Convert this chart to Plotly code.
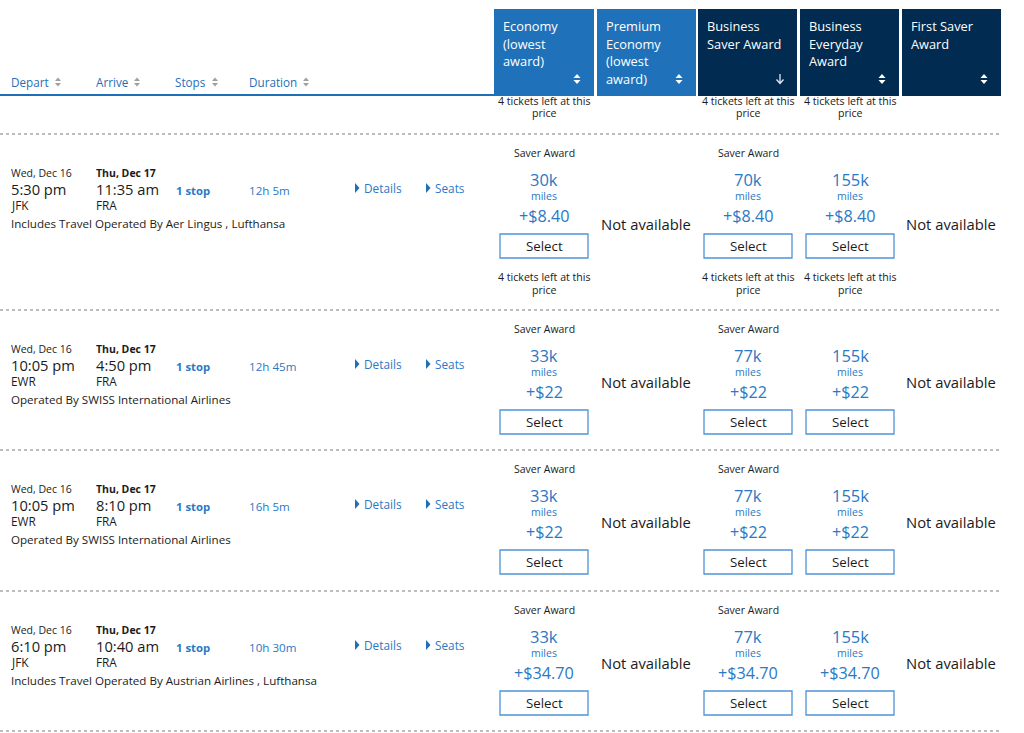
import plotly.graph_objects as go

# ---------------- data ----------------
sort_columns = ["Depart", "Arrive", "Stops", "Duration"]
fare_headers = [
    ["Economy", "(lowest", "award)"],
    ["Premium", "Economy", "(lowest", "award)"],
    ["Business", "Saver Award"],
    ["Business", "Everyday", "Award"],
    ["First Saver", "Award"],
]
depart_dates = ["Wed, Dec 16", "Wed, Dec 16", "Wed, Dec 16", "Wed, Dec 16"]
depart_times = ["5:30 pm", "10:05 pm", "10:05 pm", "6:10 pm"]
depart_airports = ["JFK", "EWR", "EWR", "JFK"]
arrive_dates = ["Thu, Dec 17", "Thu, Dec 17", "Thu, Dec 17", "Thu, Dec 17"]
arrive_times = ["11:35 am", "4:50 pm", "8:10 pm", "10:40 am"]
arrive_airports = ["FRA", "FRA", "FRA", "FRA"]
stops = ["1 stop", "1 stop", "1 stop", "1 stop"]
durations = ["12h 5m", "12h 45m", "16h 5m", "10h 30m"]
operated_by = [
    "Includes Travel Operated By Aer Lingus , Lufthansa",
    "Operated By SWISS International Airlines",
    "Operated By SWISS International Airlines",
    "Includes Travel Operated By Austrian Airlines , Lufthansa",
]
economy_miles = ["30k", "33k", "33k", "33k"]
business_saver_miles = ["70k", "77k", "77k", "77k"]
business_everyday_miles = ["155k", "155k", "155k", "155k"]
fees = ["+$8.40", "+$22", "+$22", "+$34.70"]
economy_label = ["Saver Award"] * 4
business_label = ["Saver Award"] * 4
tickets_left_row = [True, False, False, False]
tickets_text = ["4 tickets left at this", "price"]
not_available = "Not available"

# ---------------- style / layout ----------------
W, H = 1024, 733
FONT = "Open Sans"
BLUE = "#1F6FB7"
LINK = "#2A79C4"
DARK = "#1b1b1b"
HDR_LIGHT = "#1F71B9"
HDR_DARK = "#022B52"
BTN = "#4F93D6"

fig = go.Figure()
fig.add_trace(go.Scatter(x=[0, W], y=[0, H], mode="markers",
                         marker=dict(opacity=0), hoverinfo="skip", showlegend=False))

ann = []
shapes = []
PADX = 2  # annotation inner padding


def txt(x, y, s, size, color=DARK, anchor="left", bold=False):
    if bold:
        s = "<b>" + s + "</b>"
    xx = x - PADX if anchor == "left" else x
    ann.append(dict(x=xx, y=y, xref="x", yref="y", text=s, showarrow=False,
                    xanchor=anchor, yanchor="middle", borderpad=0,
                    font=dict(family=FONT, size=size, color=color)))


def sort_icon(x, y, color, h=4, w=3.5):
    shapes.append(dict(type="path", xref="x", yref="y",
                       path=f"M {x-w},{y-1} L {x+w},{y-1} L {x},{y-1-h} Z",
                       fillcolor=color, line=dict(width=0)))
    shapes.append(dict(type="path", xref="x", yref="y",
                       path=f"M {x-w},{y+1} L {x+w},{y+1} L {x},{y+1+h} Z",
                       fillcolor=color, line=dict(width=0)))


def down_arrow(x, y, color):
    shapes.append(dict(type="path", xref="x", yref="y",
                       path=f"M {x},{y-5} L {x},{y+4} M {x-3.5},{y+0.5} L {x},{y+4.5} L {x+3.5},{y+0.5}",
                       line=dict(color=color, width=1.3)))


def tri_right(x, y, color):
    shapes.append(dict(type="path", xref="x", yref="y",
                       path=f"M {x},{y-5} L {x+4.5},{y} L {x},{y+5} Z",
                       fillcolor=color, line=dict(width=0)))


# left header
col_x = [12, 97, 176, 250]
icon_x = [58, 137, 215, 306]
for cx, ix, name in zip(col_x, icon_x, sort_columns):
    txt(cx, 82, name, 11.7, BLUE)
    sort_icon(ix, 82, "#a0a0a0", h=3.5, w=3)
shapes.append(dict(type="line", xref="x", yref="y", x0=0, x1=495, y0=95, y1=95,
                   line=dict(color=BLUE, width=2)))

# fare header boxes
box_x0 = [494, 597, 698, 800, 902]
box_x1 = [594, 696, 797, 899, 1001]
box_col = [HDR_LIGHT, HDR_LIGHT, HDR_DARK, HDR_DARK, HDR_DARK]
for i, (x0, x1, c, lines) in enumerate(zip(box_x0, box_x1, box_col, fare_headers)):
    shapes.append(dict(type="rect", xref="x", yref="y", x0=x0, x1=x1, y0=9, y1=96,
                       fillcolor=c, line=dict(width=0)))
    for j, ln in enumerate(lines):
        txt(x0 + 10, 26 + j * 17.6, ln, 12.8, "white")
    if i == 2:
        down_arrow(x1 - 17, 79, "#dfe8f2")
    else:
        sort_icon(x1 - 17, 79, "white", h=4, w=3.5)

centers = [544, 646, 748, 850, 951]

# top partial tickets-left
for cx in (centers[0], centers[2], centers[3]):
    txt(cx, 101, tickets_text[0], 10.6, DARK, "center")
    txt(cx, 113, tickets_text[1], 10.6, DARK, "center")

row_sep = [134, 310, 450, 591, 731]
for ys in row_sep:
    shapes.append(dict(type="line", xref="x", yref="y", x0=0, x1=1001, y0=ys, y1=ys,
                       line=dict(color="#7a7a7a", width=1, dash="dot")))

for r in range(4):
    s = row_sep[r]
    txt(12, s + 39, depart_dates[r], 10.5, DARK)
    txt(97, s + 39, arrive_dates[r], 10.5, DARK, bold=True)
    txt(12, s + 55, depart_times[r], 14.7, DARK)
    txt(97, s + 55, arrive_times[r], 14.7, DARK)
    txt(12, s + 71, depart_airports[r], 11.8, DARK)
    txt(97, s + 71, arrive_airports[r], 11.8, DARK)
    txt(177, s + 56, stops[r], 11.3, LINK, bold=True)
    txt(250, s + 56, durations[r], 11.6, LINK)
    txt(12, s + 89, operated_by[r], 11.6, DARK)
    tri_right(355, s + 54, BLUE)
    txt(365, s + 54, "Details", 11.8, LINK)
    tri_right(426, s + 54, BLUE)
    txt(436, s + 54, "Seats", 11.8, LINK)

    cells = [(centers[0], economy_miles[r], economy_label[r]),
             (centers[2], business_saver_miles[r], business_label[r]),
             (centers[3], business_everyday_miles[r], None)]
    for cx, miles, lab in cells:
        if lab:
            txt(cx, s + 19, lab, 10.5, DARK, "center")
        txt(cx, s + 45, miles, 16.5, LINK, "center")
        txt(cx, s + 62, "miles", 10.5, LINK, "center")
        txt(cx, s + 82, fees[r], 16.2, LINK, "center")
        shapes.append(dict(type="rect", xref="x", yref="y", x0=cx - 44, x1=cx + 44,
                           y0=s + 100, y1=s + 124, fillcolor="white",
                           line=dict(color=BTN, width=1.3)))
        txt(cx, s + 112, "Select", 13.3, DARK, "center")
        if tickets_left_row[r]:
            txt(cx, s + 143, tickets_text[0], 10.6, DARK, "center")
            txt(cx, s + 156, tickets_text[1], 10.6, DARK, "center")
    na_y = s + (90 if tickets_left_row[r] else 72)
    txt(centers[1], na_y, not_available, 14.8, DARK, "center")
    txt(centers[4], na_y, not_available, 14.8, DARK, "center")

fig.update_layout(
    width=W, height=H, margin=dict(l=0, r=0, t=0, b=0),
    paper_bgcolor="white", plot_bgcolor="white", showlegend=False,
    xaxis=dict(range=[0, W], visible=False, fixedrange=True),
    yaxis=dict(range=[H, 0], visible=False, fixedrange=True),
    annotations=ann, shapes=shapes,
)
fig.write_html("out.html", config={"displayModeBar": False},
               post_script="document.body.style.margin='0px';")
